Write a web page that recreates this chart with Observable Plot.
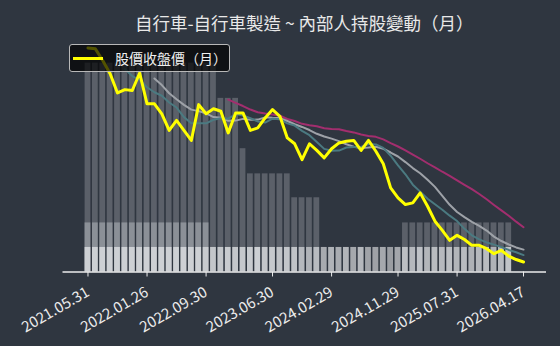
<!DOCTYPE html>
<html>
<head>
<meta charset="utf-8">
<script src="https://cdn.jsdelivr.net/npm/d3@7"></script>
<script src="https://cdn.jsdelivr.net/npm/@observablehq/plot@0.6"></script>
<style>
  html, body { margin: 0; padding: 0; background: #2f3640; }
  #fig { position: relative; width: 560px; height: 346px; background: #2f3640; overflow: hidden;
         font-family: "Noto Sans CJK TC", "Noto Sans", sans-serif; }
  #title { height: 38px; box-sizing: border-box; padding: 12px 14px 0 62.5px; text-align: center;
           color: #e8e8e8; font-size: 17.5px; line-height: 22px; white-space: nowrap; }
  #plots { position: relative; width: 560px; height: 308px; }
  #plots svg { position: absolute; left: 0; top: 0; }
  #legend { position: absolute; left: 69px; top: 44px; width: 161px; height: 28px; box-sizing: border-box;
            border: 1px solid #b8b8b8; border-radius: 3px; background: rgba(0,0,0,0.68);
            display: flex; align-items: center; z-index: 5; }
  #legend .sw { width: 30px; height: 3px; background: #ffff00; margin-left: 3px; }
  #legend .lb { margin-left: 12px; color: #f0f0f0; font-size: 14px; line-height: 16px; white-space: nowrap; }
</style>
</head>
<body>
<div id="fig">
  <div id="title"></div>
  <div id="plots"></div>
  <div id="legend"><div class="sw"></div><div class="lb"></div></div>
</div>
<script>
const titleText = "自行車-自行車製造 ~ 內部人持股變動（月）";
const legendText = "股價收盤價（月）";

// months (last trading day)
const dates = [
  "2021.05.31","2021.06.30","2021.07.30","2021.08.31","2021.09.30","2021.10.29","2021.11.30","2021.12.30",
  "2022.01.26","2022.02.25","2022.03.31","2022.04.29","2022.05.31","2022.06.30","2022.07.29","2022.08.31",
  "2022.09.30","2022.10.31","2022.11.30","2022.12.30",
  "2023.01.31","2023.02.24","2023.03.31","2023.04.28","2023.05.31","2023.06.30","2023.07.31","2023.08.31",
  "2023.09.28","2023.10.31","2023.11.30","2023.12.29",
  "2024.01.31","2024.02.29","2024.03.29","2024.04.30","2024.05.31","2024.06.28","2024.07.31","2024.08.30",
  "2024.09.30","2024.10.30","2024.11.29","2024.12.31",
  "2025.01.22","2025.02.27","2025.03.31","2025.04.30","2025.05.29","2025.06.30","2025.07.31","2025.08.29",
  "2025.09.30","2025.10.31","2025.11.28","2025.12.31",
  "2026.01.30","2026.02.26","2026.03.31","2026.04.17"
];

const tickLabels = ["2021.05.31","2022.01.26","2022.09.30","2023.06.30","2024.02.29","2024.11.29","2025.07.31","2026.04.17"];

// monthly closing price
const price = [
  329,328,314,298,275,279,278,299,262,262,
  250,230,242,230,218,261,250,256,253,227,
  251,251,230,233,245,255,247,221,214,195,
  214,206,197,208,215,217,218,206,218,205,
  190,161,149,141,143,155,139,121,110,98,
  104,99,92,92,88,82,86,79,75,72
];

// insider holding bars (first 58 months)
const barTotal = [
  16.6,16.6,16.6,16.6,16.6,16.6,16.6,16.6,16.6,16.6,16.6,16.6,16.6,16.6,16.6,16.6,16.6,16.6,
  13.8,13.8,13.8,9.8,
  7.8,7.8,7.8,7.8,7.8,7.8,
  5.9,5.9,5.9,5.9,
  1.95,1.95,1.95,1.95,1.95,1.95,1.95,1.95,1.95,1.95,1.95,
  3.9,3.9,3.9,3.9,3.9,3.9,3.9,3.9,3.9,3.9,3.9,3.9,3.9,3.9,3.9
];
const barMid = [
  3.9,3.9,3.9,3.9,3.9,3.9,3.9,3.9,3.9,3.9,3.9,3.9,3.9,3.9,3.9,3.9,3.9,
  0,0,0,0,0,0,0,0,0,0,0,0,0,0,0,0,0,0,0,0,0,0,0,0,
  0,0,0,0,0,0,0,0,0,0,0,0,0,0,0,0,0
];
const barBase = [
  1.95,1.95,1.95,1.95,1.95,1.95,1.95,1.95,1.95,1.95,1.95,1.95,1.95,1.95,1.95,1.95,1.95,1.95,1.95,1.95,
  1.95,1.95,1.95,1.95,1.95,1.95,1.95,1.95,1.95,1.95,1.95,1.95,1.95,1.95,1.95,1.95,1.95,1.95,1.95,1.95,
  1.95,1.95,1.95,1.95,1.95,1.95,1.95,1.95,1.95,1.95,1.95,1.95,1.95,1.95,1.95,1.95,1.95,1.95
];
const baseTone = [
  94,94,94,94,94,94,94,94,94,94,94,94,94,94,94,94,
  85,76,76,85,76,80,85,94,76,81,70,76,70,50,41,56,24,41,28,44,20,50,11,9,20,0,17,
  63,50,69,46,57,52,63,44,56,37,50,57,39,54,70
];

document.getElementById("title").textContent = titleText;
document.querySelector("#legend .lb").textContent = legendText;

const priceRows = dates.map((d, i) => ({date: d, price: price[i]}));
const barRows = barTotal.map((v, i) => ({date: dates[i], total: v, mid: barMid[i], base: barBase[i], tone: baseTone[i]}));

const W = 560, H = 308;
const frame = {width: W, height: H, marginTop: 7, marginBottom: 74.5, marginLeft: 62.5, marginRight: 14};
const xBase = {type: "band", domain: dates, paddingInner: 0.22, paddingOuter: 0, align: 0.5,
               insetLeft: 22.1, insetRight: 20.1, round: false};
const font = "'Noto Sans CJK TC', 'Noto Sans', sans-serif";

const barPlot = Plot.plot({
  ...frame,
  style: {background: "transparent", color: "#ececec", fontSize: "15px", fontFamily: font},
  x: {...xBase, ticks: tickLabels, tickSize: 5, tickRotate: -30, tickPadding: 14, label: null},
  y: {domain: [0, 18], axis: null},
  color: {type: "linear", domain: [0, 100], range: ["#9a9da2", "#d0d3d7"]},
  marks: [
    Plot.barY(barRows, {x: "date", y: "total", fill: "#5b6069"}),
    Plot.barY(barRows, {x: "date", y: "mid", fill: "#8b9097"}),
    Plot.barY(barRows, {x: "date", y: "base", fill: "tone"}),
    Plot.ruleY([0], {stroke: "#ececec", strokeWidth: 1.5})
  ]
});

const linePlot = Plot.plot({
  ...frame,
  style: {background: "transparent"},
  x: {...xBase, axis: null},
  y: {domain: [60, 332], axis: null},
  marks: [
    Plot.line(priceRows, Plot.windowY({k: 20, anchor: "end", strict: true}, {x: "date", y: "price", stroke: "#a22e6e", strokeWidth: 2})),
    Plot.line(priceRows, Plot.windowY({k: 10, anchor: "end", strict: true}, {x: "date", y: "price", stroke: "#9ea2a8", strokeWidth: 2})),
    Plot.line(priceRows, Plot.windowY({k: 6, anchor: "end", strict: true}, {x: "date", y: "price", stroke: "#4b7a81", strokeWidth: 2})),
    Plot.line(priceRows, {x: "date", y: "price", stroke: "#ffff00", strokeWidth: 3})
  ]
});

const host = document.getElementById("plots");
host.appendChild(barPlot);
host.appendChild(linePlot);
</script>
</body>
</html>
